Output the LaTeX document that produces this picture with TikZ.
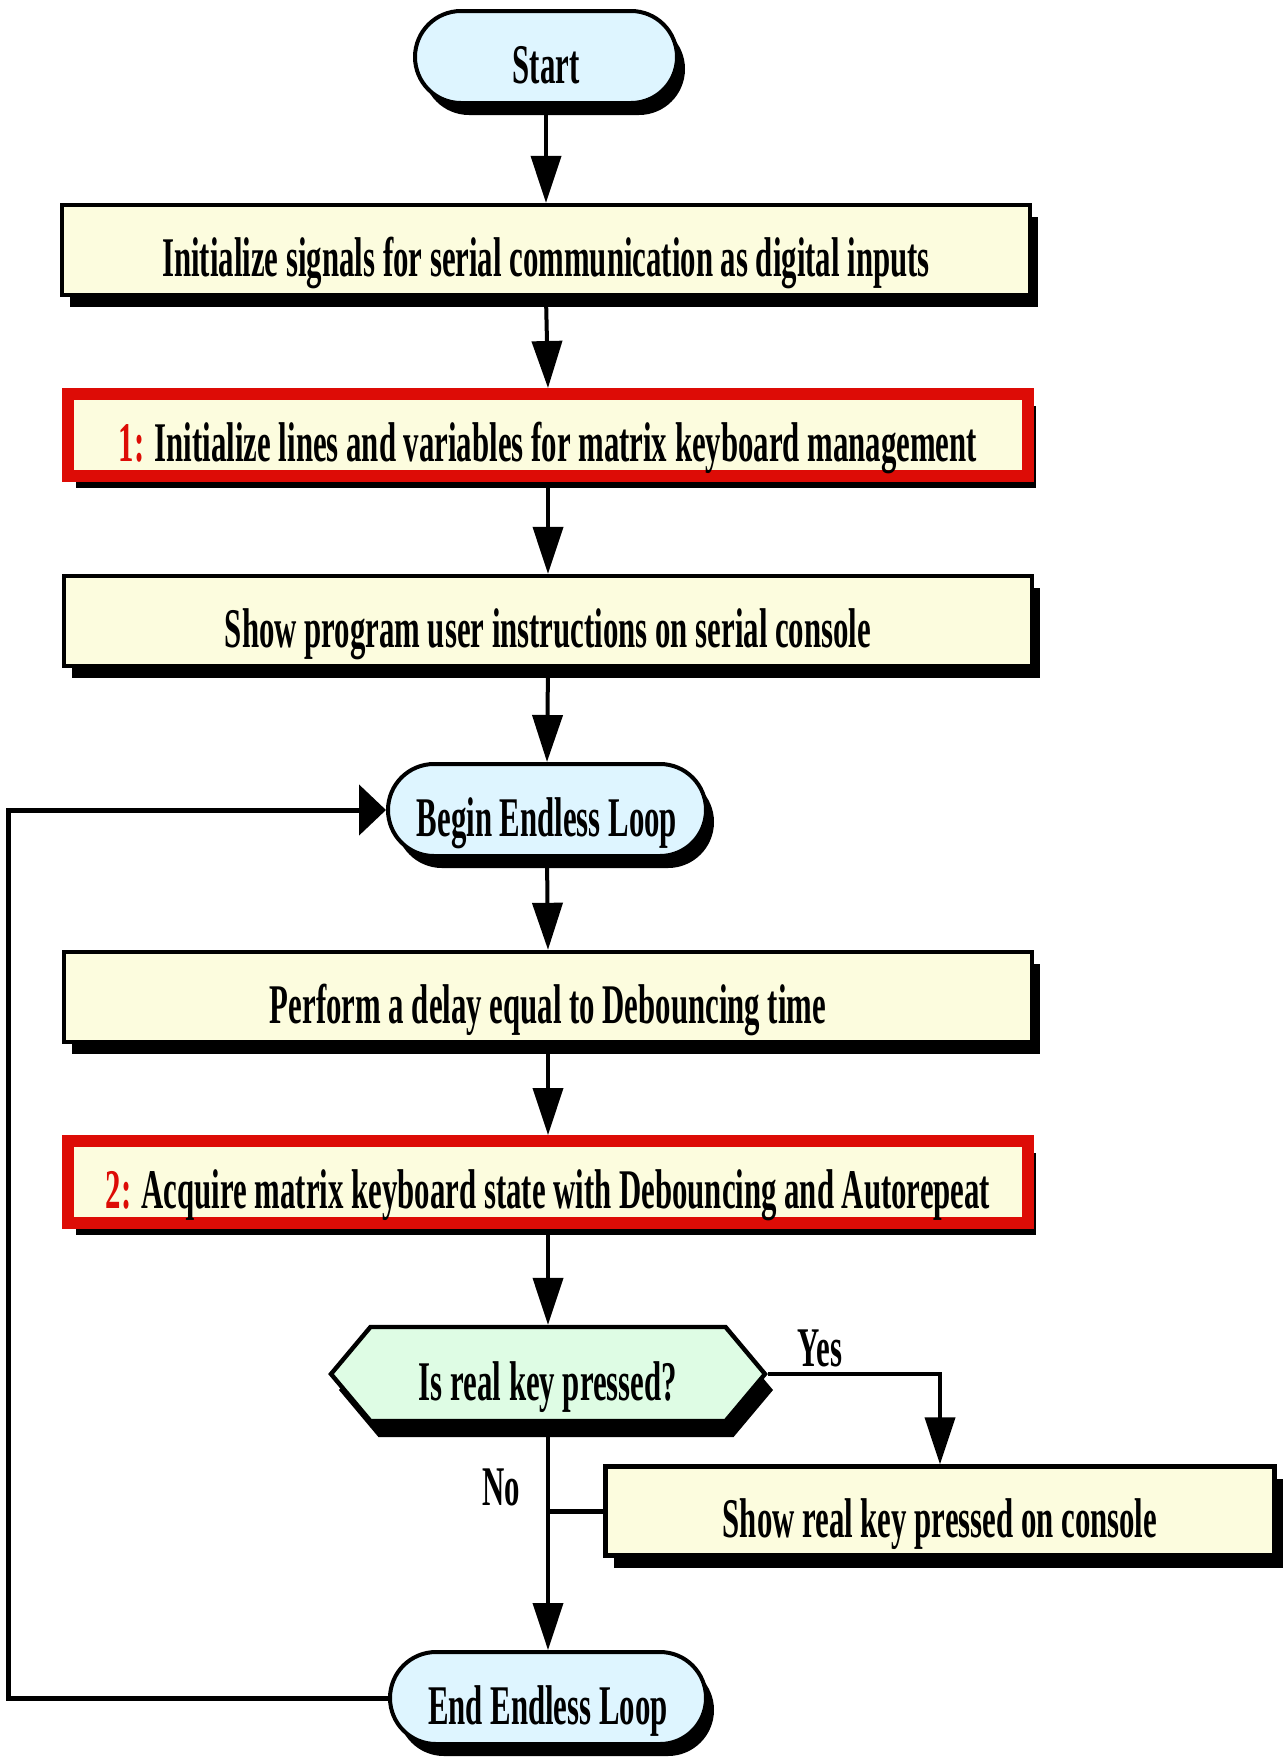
\documentclass[tikz,border=0pt]{standalone}
\usepackage{fontspec}
\setmainfont{Liberation Serif}[FakeStretch=0.55]
\usetikzlibrary{arrows.meta,shadows,shapes.symbols}
\definecolor{termfill}{RGB}{222,245,255}
\definecolor{boxfill}{RGB}{252,252,222}
\definecolor{hexfill}{RGB}{222,252,228}
\definecolor{hired}{RGB}{221,12,6}
\begin{document}
\begin{tikzpicture}[x=0.5pt,y=-0.5pt,
  every node/.style={font=\fontsize{28}{31}\selectfont\bfseries, inner sep=0pt},
  boxtext/.style={text height=26pt, text depth=0pt},
  shad/.style={drop shadow={shadow xshift=4pt, shadow yshift=-6pt, fill=black, opacity=1}},
  term/.style={shad, boxtext, draw=black, line width=2pt, fill=termfill, rounded corners=23pt,
    minimum height=46pt},
  procbox/.style={shad, boxtext, draw=black, line width=2.2pt, fill=boxfill, minimum width=484pt, minimum height=45pt},
  redbox/.style={shad, boxtext, draw=hired, line width=6pt, fill=boxfill, minimum width=480pt, minimum height=41pt},
  hexbox/.style={drop shadow={shadow xshift=4pt, shadow yshift=-8pt, fill=black, opacity=1},
    boxtext, signal, signal to=west and east, signal pointer angle=100,
    draw=black, line width=2.2pt, fill=hexfill, minimum width=217pt, minimum height=47pt},
  conn/.style={line width=2pt, -{Triangle[length=23.5pt,width=15pt]}},
  plain/.style={line width=2.5pt},
  loopconn/.style={line width=2.5pt, -{Triangle[length=13.5pt,width=25pt]}},
  lbl/.style={font=\fontsize{28}{31}\selectfont\bfseries}
]
\useasboundingbox (0,0) rectangle (1286,1757);

\node[term, minimum width=131pt] (start) at (546,57) {Start};
\node[procbox] (init) at (546,250) {Initialize signals for serial communication as digital inputs};
\node[redbox] (kbinit) at (548,435) {\textcolor{hired}{1:} Initialize lines and variables for matrix keyboard management};
\node[procbox] (instr) at (548,621) {Show program user instructions on serial console};
\node[term, minimum width=159pt] (begin) at (547,810) {Begin Endless Loop};
\node[procbox] (delay) at (548,997) {Perform a delay equal to Debouncing time};
\node[redbox] (acq) at (548,1182) {\textcolor{hired}{2:} Acquire matrix keyboard state with Debouncing and Autorepeat};
\node[hexbox] (dec) at (548,1374) {Is real key pressed?};
\node[procbox, minimum width=334.5pt, minimum height=44.5pt] (show) at (940,1511) {Show real key pressed on console};
\node[term, minimum width=158pt] (endl) at (548,1698) {End Endless Loop};

\node[lbl] (yes) at (820,1348) {Yes};
\node[lbl] (no) at (501,1487) {No};

\coordinate (lt) at (8,810);

\draw[conn] (start.south) -- (init.north);
\draw[conn] (init.south) -- (kbinit.north);
\draw[conn] (kbinit.south) -- (instr.north);
\draw[conn] (instr.south) -- (begin.north);
\draw[conn] (begin.south) -- (delay.north);
\draw[conn] (delay.south) -- (acq.north);
\draw[conn] (acq.south) -- (dec.north);
\draw[conn] (dec.east) -| (show.north);
\draw[conn] (dec.south) -- (endl.north);
\draw[plain] (show.west) -- (show.west -| dec.south);
\draw[loopconn] (endl.west) -| (lt) -- (begin.west);
\end{tikzpicture}
\end{document}
